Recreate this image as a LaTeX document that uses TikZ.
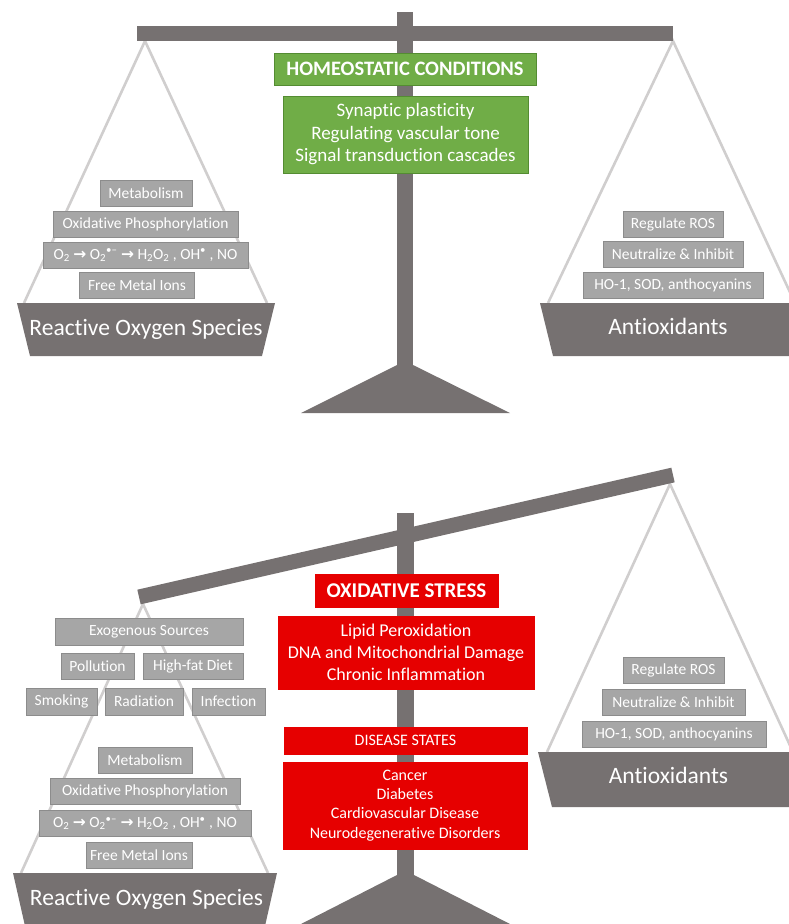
\documentclass[tikz,border=0pt]{standalone}
\usepackage{fontspec}
\setmainfont[Ligatures=NoCommon]{Carlito}
\newfontfamily\arrowfont{DejaVu Sans}
\usepackage{tikz}
\definecolor{beamgray}{RGB}{118,113,113}
\definecolor{stringgray}{RGB}{208,206,206}
\definecolor{boxgray}{RGB}{166,166,166}
\definecolor{boxedge}{RGB}{140,140,140}
\definecolor{homeogreen}{RGB}{112,173,71}
\definecolor{homeoedge}{RGB}{84,140,50}
\definecolor{stressred}{RGB}{230,0,0}
\newcommand{\rarr}{{\arrowfont\bfseries →}}
\newcommand{\chemline}{O\textsubscript{2} \rarr{} O\textsubscript{2}\textsuperscript{•–} \rarr{} H\textsubscript{2}O\textsubscript{2} , OH\textsuperscript{•} , NO}
\tikzset{
  beam part/.style={
    fill=beamgray, draw=none
  },
  string line/.style={
    draw=stringgray, line width=2.6pt
  },
  item box/.style={
    rectangle, fill=boxgray, draw=boxedge, line width=0.8pt, text=white,
    inner sep=0pt, minimum height=26pt, font=\fontsize{15.5}{18}\selectfont
  },
  green box/.style={
    rectangle, fill=homeogreen, draw=homeoedge, line width=0.8pt, text=white,
    inner sep=0pt, align=center
  },
  red box/.style={
    rectangle, fill=stressred, draw=stressred, line width=0.8pt, text=white,
    inner sep=0pt, align=center
  },
  pan text/.style={
    text=white, anchor=base, inner sep=0pt, font=\fontsize{23.5}{28}\selectfont
  }
}

\begin{document}
\begin{tikzpicture}[x=1pt, y=-1pt]
\useasboundingbox (0,0) rectangle (789,924);
\clip (0,0) rectangle (789,924);

% ------------------------------------------------
% 上方天平：平衡状态
% ------------------------------------------------
\begin{scope}
  \coordinate (tLA)  at (145,41);
  \coordinate (tLP1) at (24,303);
  \coordinate (tLP2) at (267,303);
  \coordinate (tRA)  at (673,41);
  \coordinate (tRP1) at (548,303);
  \coordinate (tRP2) at (795,303);
  \draw[string line] (tLP1) -- (tLA) -- (tLP2);
  \draw[string line] (tRP1) -- (tRA) -- (tRP2);

  \fill[beam part] (397,12) rectangle (413,366);
  \fill[beam part] (301,413) -- (397,365) -- (413,365) -- (510,413) -- cycle;
  \fill[beam part] (137,26) rectangle (673,41);

  \fill[beam part] (17,303) -- (275,303) -- (262,356) -- (30,356) -- cycle;
  \fill[beam part] (540,303) -- (806,303) -- (793,356) -- (553,356) -- cycle;
  \node[pan text] (tROS) at (146,335) {Reactive Oxygen Species};
  \node[pan text] (tAnt) at (668,334) {Antioxidants};

  \node[item box, minimum width=92]  (tMet)  at (146,193)   {Metabolism};
  \node[item box, minimum width=185] (tOxP)  at (145.5,224) {Oxidative Phosphorylation};
  \node[item box, minimum width=205] (tChem) at (145.5,255) {\chemline};
  \node[item box, minimum width=115] (tFree) at (137,285.5) {Free Metal Ions};

  \node[item box, minimum width=100] (tReg) at (673,224)   {Regulate ROS};
  \node[item box, minimum width=140] (tNeu) at (673,254.5) {Neutralize \& Inhibit};
  \node[item box, minimum width=180] (tHO)  at (673,285)   {HO-1, SOD, anthocyanins};

  \node[green box, minimum width=262, minimum height=32,
        font=\bfseries\fontsize{20.5}{24}\selectfont] (tHomeo) at (405,69) {HOMEOSTATIC CONDITIONS};
  \node[green box, minimum width=245, minimum height=77,
        font=\fontsize{19}{22.5}\selectfont] (tSyn) at (405.5,134.5)
        {Synaptic plasticity\\Regulating vascular tone\\Signal transduction cascades};
\end{scope}

% ------------------------------------------------
% 下方天平：氧化应激，左侧下沉
% ------------------------------------------------
\begin{scope}
  \coordinate (bLA)  at (143,604);
  \coordinate (bLP1) at (21,873);
  \coordinate (bLP2) at (268,873);
  \coordinate (bRA)  at (670,484);
  \coordinate (bRP1) at (547,752);
  \coordinate (bRP2) at (793,752);
  \draw[string line] (bLP1) -- (bLA) -- (bLP2);
  \draw[string line] (bRP1) -- (bRA) -- (bRP2);

  \fill[beam part] (397,513) rectangle (414,876);
  \fill[beam part] (301,924) -- (397,875) -- (414,875) -- (510,924) -- cycle;
  \coordinate (bBL) at (139,597);
  \coordinate (bBR) at (673,475);
  \draw[beamgray, line width=15pt] (bBL) -- (bBR);

  \fill[beam part] (13,873) -- (277,873) -- (265,926) -- (25,926) -- cycle;
  \fill[beam part] (538,752) -- (806,752) -- (793,807) -- (552,807) -- cycle;
  \node[pan text] (bROS) at (146.5,905) {Reactive Oxygen Species};
  \node[pan text] (bAnt) at (668.5,783) {Antioxidants};

  \node[item box, minimum width=188, minimum height=27] (bExo) at (149,631.5) {Exogenous Sources};
  \node[item box, minimum width=73]  (bPol) at (97.5,666)  {Pollution};
  \node[item box, minimum width=100] (bFat) at (193,666)   {High-fat Diet};
  \node[item box, minimum width=71, minimum height=27] (bSmo) at (61.5,701.5)  {Smoking};
  \node[item box, minimum width=78, minimum height=27] (bRad) at (144,701.5)   {Radiation};
  \node[item box, minimum width=73, minimum height=27] (bInf) at (228.5,701.5) {Infection};

  \node[item box, minimum width=94]  (bMet)  at (145,760)   {Metabolism};
  \node[item box, minimum width=190] (bOxP)  at (145,791.5) {Oxidative Phosphorylation};
  \node[item box, minimum width=212] (bChem) at (145,823.5) {\chemline};
  \node[item box, minimum width=106] (bFree) at (139,855)   {Free Metal Ions};

  \node[item box, minimum width=101] (bReg) at (673.5,670)   {Regulate ROS};
  \node[item box, minimum width=143] (bNeu) at (673.5,702.5) {Neutralize \& Inhibit};
  \node[item box, minimum width=184] (bHO)  at (674,734)     {HO-1, SOD, anthocyanins};

  \node[red box, minimum width=183, minimum height=33,
        font=\bfseries\fontsize{21}{25}\selectfont] (bOx) at (406.5,590.5) {OXIDATIVE STRESS};
  \node[red box, minimum width=256, minimum height=73,
        font=\fontsize{18}{22}\selectfont] (bLip) at (406,652.5)
        {Lipid Peroxidation\\DNA and Mitochondrial Damage\\Chronic Inflammation};
  \node[red box, minimum width=243, minimum height=27,
        font=\fontsize{16}{19}\selectfont] (bDis) at (405.5,740.5) {DISEASE STATES};
  \node[red box, minimum width=244, minimum height=87,
        font=\fontsize{16}{19.3}\selectfont] (bCan) at (405,805.5)
        {Cancer\\Diabetes\\Cardiovascular Disease\\Neurodegenerative Disorders};
\end{scope}
\end{tikzpicture}
\end{document}
